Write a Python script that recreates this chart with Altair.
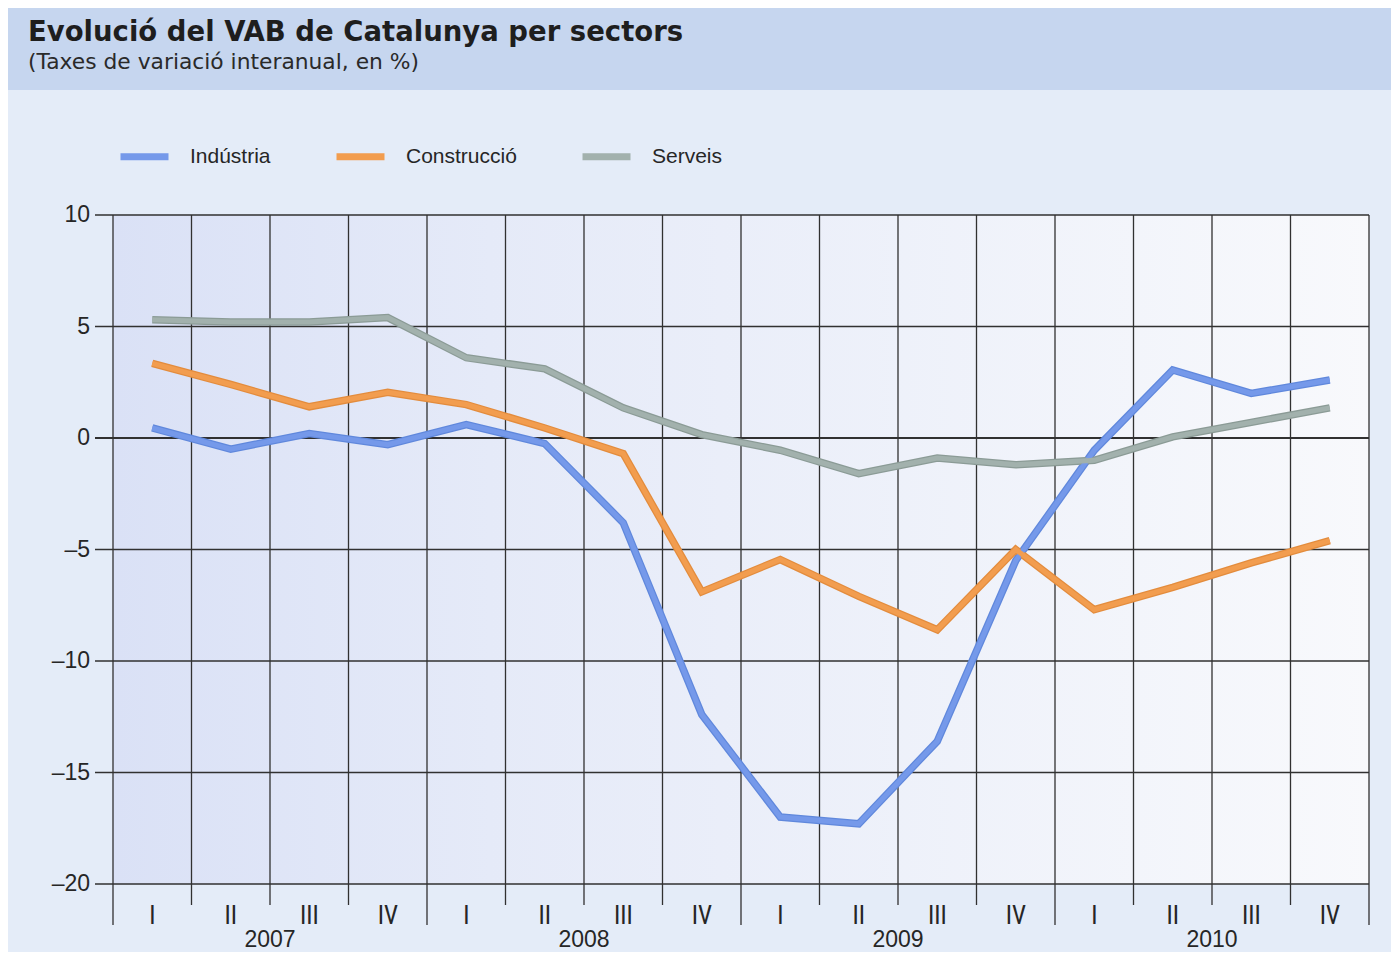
import altair as alt
import pandas as pd

# ---------------- data ----------------
quarter_labels = ["I", "II", "III", "IV"]
years = ["2007", "2008", "2009", "2010"]
series_names = ["Indústria", "Construcció", "Serveis"]
series_colors = ["#7599ea", "#f29d4f", "#a2b1ad"]
series_edge = ["#6088dc", "#e38c3d", "#8b9b96"]

industria = [0.45, -0.5, 0.2, -0.3, 0.6, -0.25, -3.8, -12.4,
             -17.0, -17.3, -13.6, -5.5, -0.55, 3.05, 2.0, 2.6]
construccio = [3.35, 2.4, 1.4, 2.05, 1.5, 0.45, -0.7, -6.9,
               -5.45, -7.1, -8.6, -5.0, -7.7, -6.7, -5.6, -4.6]
serveis = [5.3, 5.2, 5.2, 5.4, 3.6, 3.1, 1.35, 0.15,
           -0.55, -1.6, -0.9, -1.2, -1.0, 0.05, 0.7, 1.35]

y_ticks = [-20, -15, -10, -5, 0, 5, 10]
y_tick_labels = ["–20", "–15", "–10", "–5", "0", "5", "10"]

TITLE = "Evolució del VAB de Catalunya per sectors"
SUBTITLE = "(Taxes de variació interanual, en %)"

# ---------------- layout ----------------
W, H = 1256, 669
PAD = {"left": 105, "top": 207, "right": 22, "bottom": 68}
N = len(industria)
YMIN, YMAX = -20, 10
px_per_unit = H / (YMAX - YMIN)
qx_unit = W / N

FONT = "Liberation Sans"
NARROW = "Liberation Sans Narrow, Roboto Condensed, Liberation Sans"
TFONT = "DejaVu Sans"
TEXT = "#262626"
GRID = "#313131"

rows = []
for name, vals in zip(series_names, [industria, construccio, serveis]):
    for i, v in enumerate(vals):
        rows.append({"q": i + 0.5, "v": v, "s": name})
lines_df = pd.DataFrame(rows)

xscale = alt.Scale(domain=[0, N], nice=False, zero=False)
yscale = alt.Scale(domain=[YMIN, YMAX], nice=False, zero=False)

# header band
band = alt.Chart(pd.DataFrame({"a": [0]})).mark_rect(color="#c6d6ef").encode(
    x=alt.value(-PAD["left"]), x2=alt.value(W + PAD["right"]),
    y=alt.value(-PAD["top"]), y2=alt.value(-125),
)

# plot-area background with gradient
grad = alt.LinearGradient(
    gradient="linear",
    stops=[alt.GradientStop(offset=0, color="#dae1f6"),
           alt.GradientStop(offset=0.3, color="#e5eaf8"),
           alt.GradientStop(offset=1, color="#f8f9fc")],
    x1=0, x2=1, y1=0, y2=0,
)
plot_bg = alt.Chart(pd.DataFrame({"x0": [0], "x1": [N], "y0": [YMIN], "y1": [YMAX]})).mark_rect(
    fill=grad
).encode(
    x=alt.X("x0:Q", scale=xscale, axis=None), x2="x1:Q",
    y=alt.Y("y0:Q", scale=yscale, axis=None), y2="y1:Q",
)

# vertical grid lines (quarter boundaries, longer at year boundaries)
vb = list(range(N + 1))
vdf = pd.DataFrame({
    "x": vb,
    "top": [YMAX] * len(vb),
    "bot": [YMIN - (41 if b % 4 == 0 else 21) / px_per_unit for b in vb],
})
vrules = alt.Chart(vdf).mark_rule(color=GRID, strokeWidth=1.3).encode(
    x=alt.X("x:Q", scale=xscale, axis=None),
    y=alt.Y("top:Q", scale=yscale, axis=None), y2="bot:Q",
)

# horizontal grid lines (extending left as ticks)
hdf = pd.DataFrame({
    "y": y_ticks,
    "xl": [-18 / qx_unit] * len(y_ticks),
    "xr": [N] * len(y_ticks),
    "w": [2.0 if t == 0 else 1.3 for t in y_ticks],
})
hrules = alt.Chart(hdf).mark_rule(color=GRID).encode(
    y=alt.Y("y:Q", scale=yscale, axis=None),
    x=alt.X("xl:Q", scale=xscale, axis=None), x2="xr:Q",
    strokeWidth=alt.StrokeWidth("w:Q", scale=None, legend=None),
)

# darker edge under each data line (printed look), one fixed-colour layer per series
edge_layers = []
for name, ec in zip(series_names, series_edge):
    edge_layers.append(
        alt.Chart(lines_df).transform_filter(alt.datum.s == name)
        .mark_line(strokeWidth=7.5, strokeJoin="miter", color=ec)
        .encode(
            x=alt.X("q:Q", scale=xscale, axis=None),
            y=alt.Y("v:Q", scale=yscale, axis=None),
        )
    )

# data lines
lines = alt.Chart(lines_df).mark_line(strokeWidth=5, strokeJoin="miter").encode(
    x=alt.X("q:Q", scale=xscale, axis=None),
    y=alt.Y("v:Q", scale=yscale, axis=None),
    color=alt.Color("s:N", scale=alt.Scale(domain=series_names, range=series_colors),
                    sort=series_names,
                    legend=alt.Legend(
                        title=None, orient="none", legendX=4, legendY=-86,
                        direction="horizontal", symbolType="stroke",
                        symbolSize=2304, symbolStrokeWidth=7,
                        labelFontSize=21, labelFont=FONT, labelColor=TEXT,
                        labelOffset=18, columnPadding=51, padding=0, labelLimit=400,
                    )),
    detail="s:N",
)

# y tick labels
ylab_df = pd.DataFrame({"y": y_ticks, "lab": y_tick_labels})
y_labels = alt.Chart(ylab_df).mark_text(
    fontSize=23, font=FONT, color=TEXT, align="right", baseline="middle"
).encode(
    y=alt.Y("y:Q", scale=yscale, axis=None), x=alt.value(-23), text="lab:N"
)

# quarter labels
qlab_df = pd.DataFrame({"x": [i + 0.5 for i in range(N)],
                        "lab": [quarter_labels[i % 4] for i in range(N)]})
q_labels = alt.Chart(qlab_df).mark_text(
    fontSize=25, font=NARROW, color=TEXT, align="center", baseline="middle"
).encode(
    x=alt.X("x:Q", scale=xscale, axis=None), y=alt.value(H + 32), text="lab:N"
)

# year labels
ydf = pd.DataFrame({"x": [4 * k + 2 for k in range(len(years))], "year": years})
year_text = alt.Chart(ydf).mark_text(
    fontSize=23, font=FONT, color=TEXT, baseline="middle", align="center"
).encode(
    x=alt.X("x:Q", scale=xscale, axis=None), y=alt.value(H + 56), text="year:N"
)

title_t = alt.Chart(pd.DataFrame({"t": [TITLE]})).mark_text(
    fontSize=27.5, font=TFONT, fontWeight="bold", color="#1e1e1e",
    align="left", baseline="alphabetic"
).encode(x=alt.value(-85), y=alt.value(-174), text="t:N")

sub_t = alt.Chart(pd.DataFrame({"t": [SUBTITLE]})).mark_text(
    fontSize=21.8, font=TFONT, color="#2a2a2a", align="left", baseline="alphabetic"
).encode(x=alt.value(-85), y=alt.value(-146), text="t:N")

chart = alt.layer(
    band, plot_bg, vrules, hrules, *edge_layers, lines, y_labels, q_labels, year_text,
    title_t, sub_t
).properties(
    width=W, height=H,
    autosize=alt.AutoSizeParams(type="none"),
    padding=PAD,
).configure(
    background="#e4ecf8",
).configure_view(stroke=None)

chart.save("out.html", embed_options={"renderer": "svg", "actions": False})
